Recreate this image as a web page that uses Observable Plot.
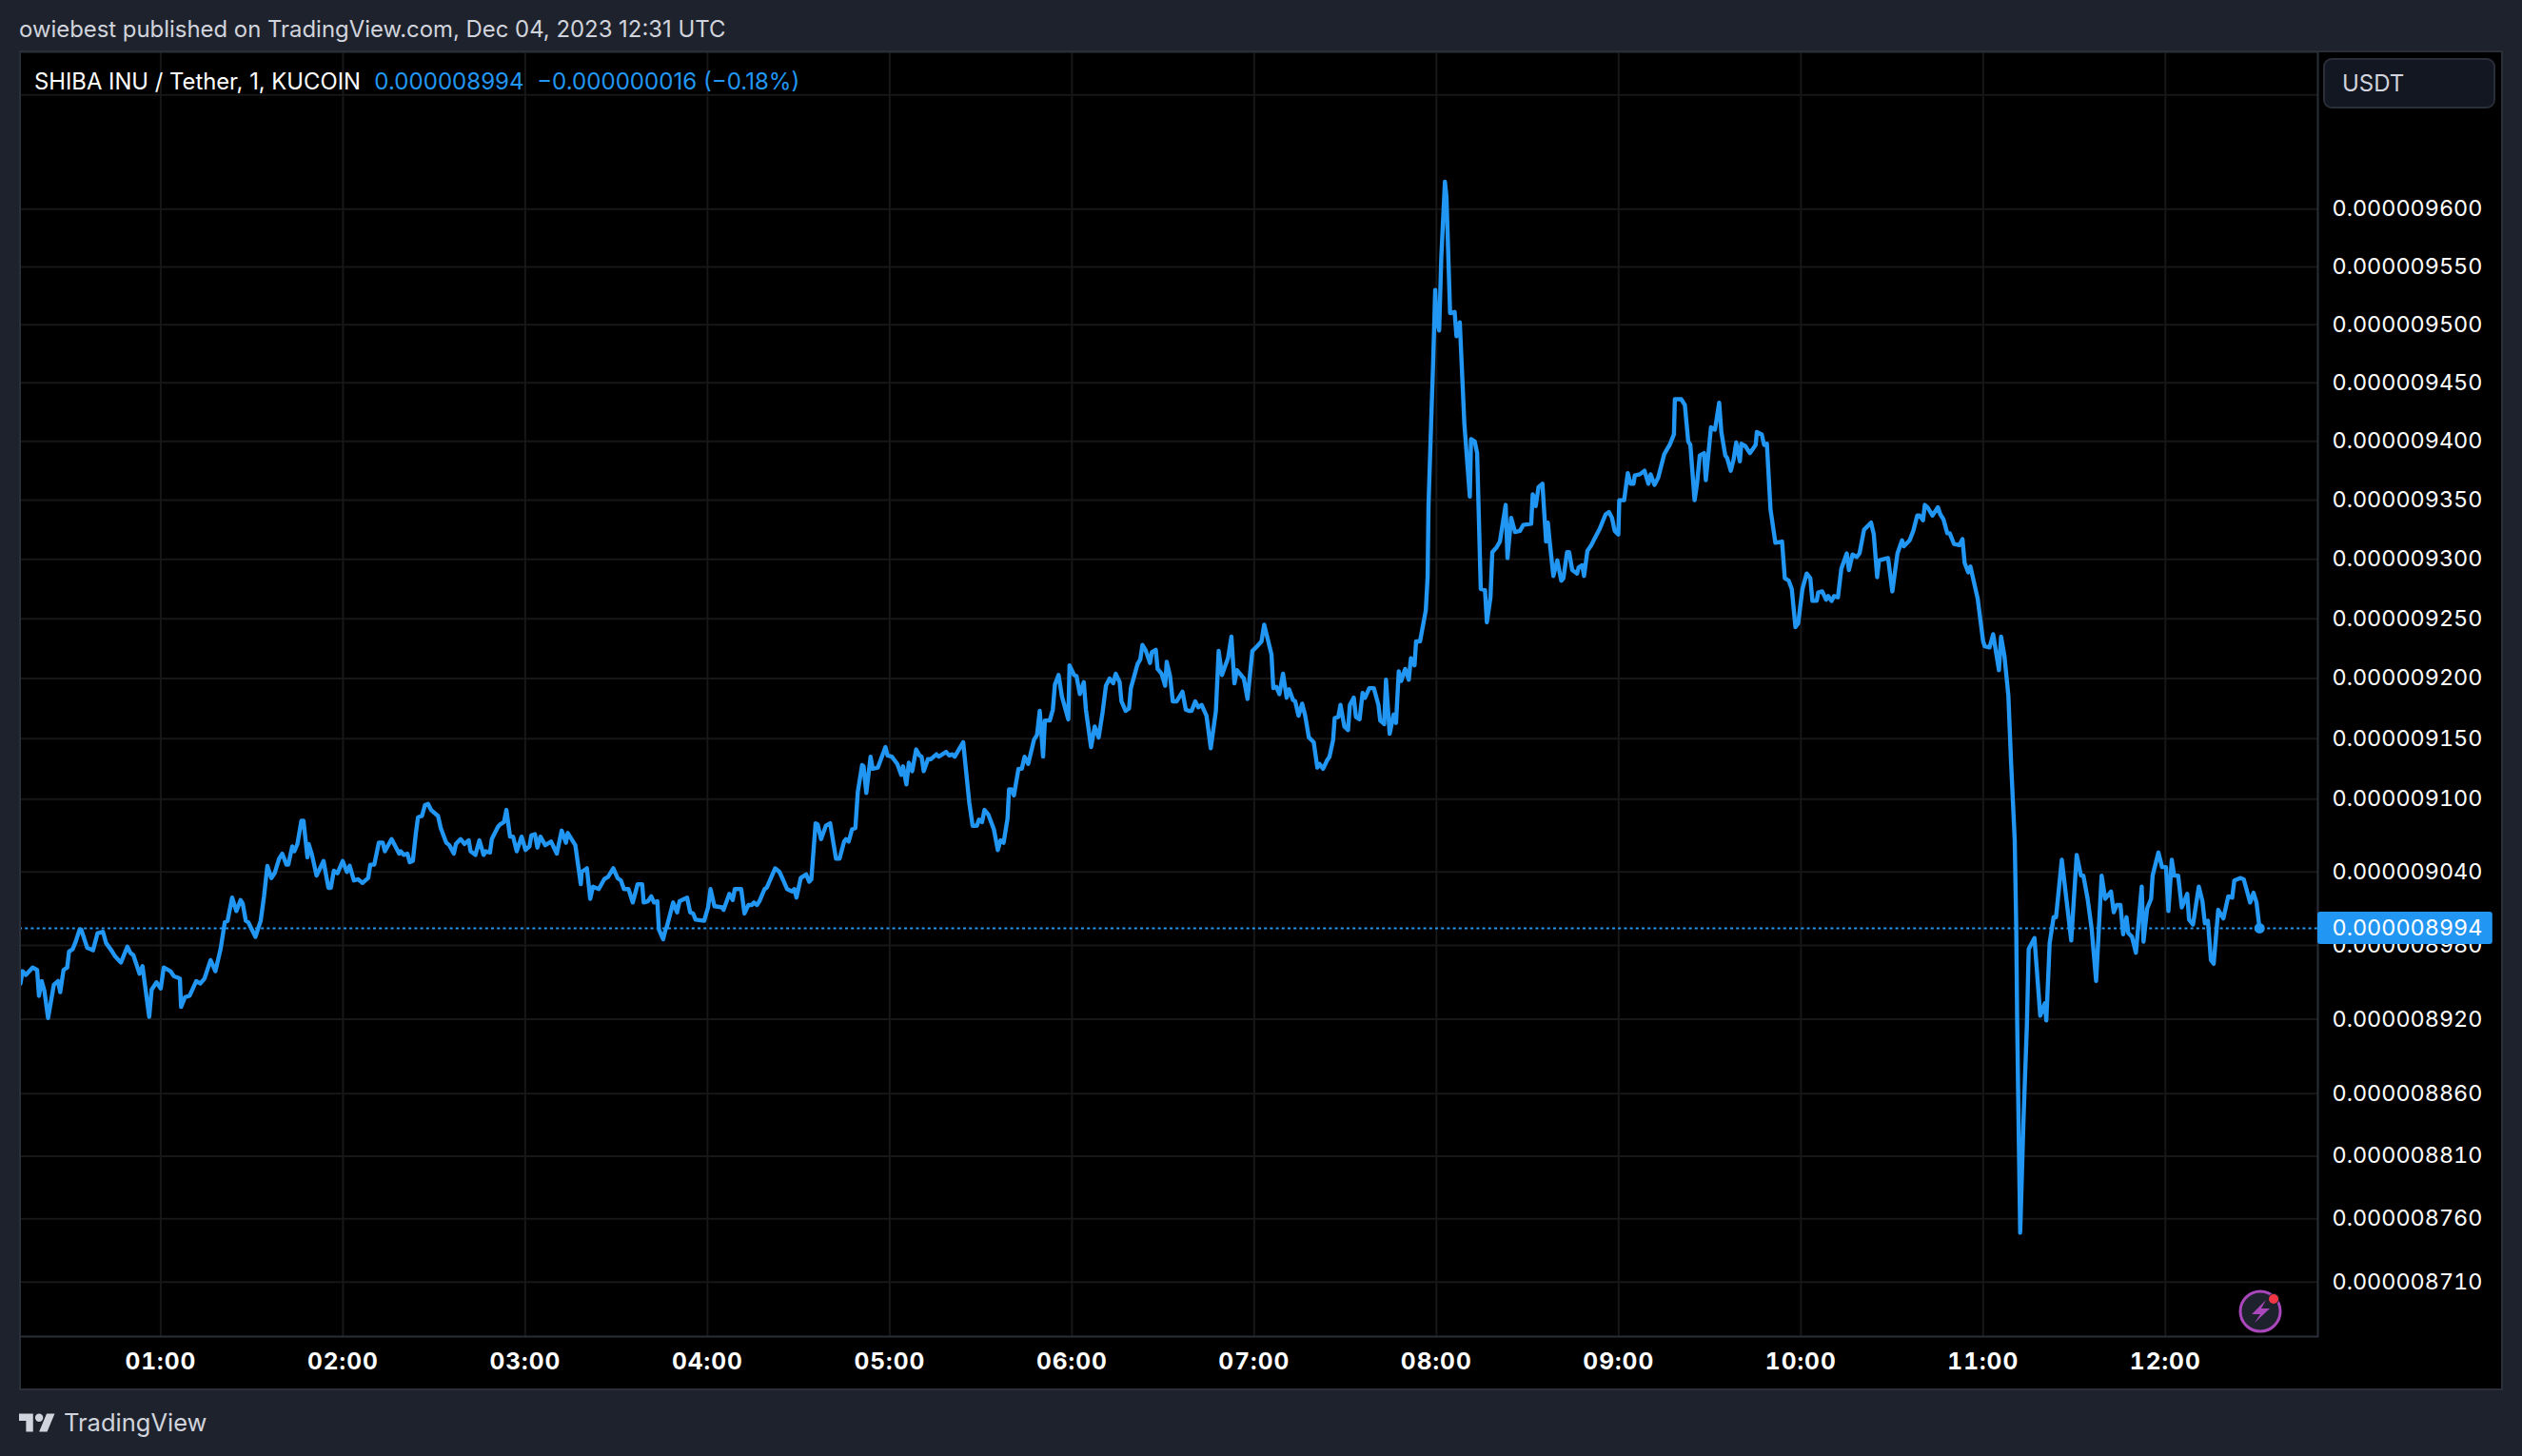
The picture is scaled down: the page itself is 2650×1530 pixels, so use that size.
<!DOCTYPE html>
<html>
<head>
<meta charset="utf-8">
<script src="https://cdn.jsdelivr.net/npm/d3@7"></script>
<script src="https://cdn.jsdelivr.net/npm/@observablehq/plot@0.6"></script>
<style>
html,body{margin:0;padding:0;background:#1e222d;width:2650px;height:1530px;overflow:hidden;font-family:Inter,"Liberation Sans",sans-serif}
#head{height:53px;line-height:62px;padding-left:20px;color:#d1d4dc;font-size:23.9px;white-space:nowrap;box-sizing:border-box}
#chart{position:relative;margin-left:20px;width:2610px;height:1408px}
#chart svg.main{display:block;outline:2px solid #2a2e39;outline-offset:-2px}
#chart svg.main [aria-label="x-axis tick label"]{letter-spacing:1px}
#legend{position:absolute;left:16px;top:18px;font-size:23.8px;line-height:30px;white-space:nowrap;color:#fff}
#legend .v{color:#2196f3;font-size:24.1px;margin-left:1px}
#unit{position:absolute;left:2421px;top:8px;width:181px;height:53px;box-sizing:border-box;background:#131722;border:2px solid #2a2e39;border-radius:9px;color:#d1d4dc;font-size:24px;line-height:49px;padding-left:18px}
#bolt{position:absolute;left:2328px;top:1296px}
#foot{height:69px;display:flex;align-items:center;padding-left:20px;color:#d1d4dc;font-size:25.5px;box-sizing:border-box;padding-bottom:2px}
#foot svg{margin-right:9px}
</style>
</head>
<body>
<div id="head">owiebest published on TradingView.com, Dec 04, 2023 12:31 UTC</div>
<div id="chart">
  <div id="legend">SHIBA INU / Tether, 1, KUCOIN&nbsp; <span class="v">0.000008994&nbsp; −0.000000016 (−0.18%)</span></div>
  <div id="unit">USDT</div>
</div>
<div id="foot"><svg width="38" height="20" viewBox="0 4 36 18"><path fill="#d1d4dc" d="M14 22H7V11H0V4h14v18zM28 22h-8l7.5-18h8L28 22z"/><circle fill="#d1d4dc" cx="20" cy="8" r="4"/></svg>TradingView</div>
<script>
// Minutes after 00:00 UTC, Dec 04 2023, and last price in units of 1e-9 USDT
const minutes = [
13.8,14.5,15.6,17.8,19.3,19.9,20.8,21.7,22.9,24.8,26.2,26.9,
28,29.2,29.8,31,32,33.3,33.8,35.8,37.7,39.2,41,42,
44,45,46.9,49,50,51,53,54,56.2,57,58.6,60,
61,63.2,64.3,66.3,66.7,68,69.5,71.7,73,74.4,76.4,78,
79.7,81.1,82,83.5,84.9,86.3,87,88,88.8,91.2,92.9,94,
95.1,96.4,97.5,99,100,101.4,102,103.3,104,105,106.3,107,
108.3,108.7,109.8,111.3,113.6,115.2,116,117,118.2,119.9,121.3,122.2,
123.6,125,126.4,128.3,129,130.3,131.8,133.1,133.8,136,138.5,139,
140,141.2,142,143,144,144.7,146,147,148,149,151.3,152.2,
154,155,156.5,157.2,158.7,160,161.4,162,163.6,164.9,166.3,167,
168.4,169,171,171.7,173,173.8,175,176,177.2,178.8,180.1,181.4,
182,183.2,184,185,186.6,188.5,190.4,192,193.4,194,196.5,198.3,
198.6,200.3,201.4,202.3,204.2,206,207.3,209,210.4,211.5,212.5,214,
215.4,217,218.5,219,220.4,221.5,222.4,223.5,224,225.4,226.2,226.6,
228.7,230,230.8,233.3,234.3,235.3,236.1,238.9,240.2,241,242.3,244.8,
245.3,247.2,248.3,249,251.1,252.2,253.5,254.6,255.3,256.3,257.1,258.8,
259.5,262.3,263.7,265,266.2,267.9,268.6,269.3,270.7,272.5,273.5,274.2,
275.6,276.3,277.4,279,280.4,282.3,283.5,285,285.6,286.5,287.6,288.7,
289.5,290.9,291.4,292.3,293.7,294.4,296.1,298.6,299.3,300.7,302.5,303.8,
304.4,305.5,306.3,307.4,308.7,309.8,310.5,311.2,312.6,313.6,315.4,316.1,
318.6,319.6,320.6,321.4,324.2,326.2,327.3,328.7,329.4,330.4,331.2,332.5,
334.3,335.6,336.5,337.5,338.8,339.3,340.1,340.9,342.4,343.5,344.4,345.6,
347.5,348.5,349.4,350.5,351.1,352.7,353.7,354.4,355.6,356.7,358.8,359.2,
360.7,361.5,362.6,363.9,364.6,366.3,367.5,368.8,370.1,371.2,372.4,373.6,
374.4,375.7,376.3,377.7,378.8,379.4,381.6,382.5,383.2,384.2,385.7,386.3,
387.6,388.2,389.5,390.7,391.2,392.3,393.2,394.5,396.4,397.5,398.5,399.4,
400.6,401.6,402.7,404.3,405.7,407.4,408.3,409.4,411.4,412.5,413.5,414.3,
416.6,417.8,419.4,421,422.4,423.3,425.7,426.3,427.3,428.3,429.5,430.7,
431.5,432.8,433.5,434.6,435.8,436.8,438,439.6,440.8,441.5,442.7,444,
444.8,446,446.5,447.7,448.4,449.7,450.9,451.5,452.8,453.5,454.7,455.7,
456.5,457.9,459.4,460.9,461.5,462.8,463.4,464.6,465.9,466.7,467.6,468.4,
469.7,470.9,471.6,472.8,473.3,474.6,476.5,477.1,477.4,478.3,478.9,479.6,
480,480.9,481.6,482.8,483.3,484.5,486,486.6,487.7,489.2,491,491.4,
492.6,493.4,494.6,496,496.6,497.8,498.4,499.8,500.9,502.8,503.4,504.6,
505.9,507.5,508.6,511.2,511.7,512.7,513.6,514.9,516.1,516.7,517.2,518.5,
519.8,521.1,521.8,523,523.7,524.7,526.3,526.8,528,528.6,529.7,531,
532.6,533.8,535.7,536.8,537.8,538.7,539.9,540.2,541.8,543,543.9,544.9,
545.3,547,548.5,549.8,550.5,551.8,553,555,556.1,556.8,558.2,558.5,
559.1,560.6,561.8,562.9,563.6,565,565.8,566.7,568.1,568.7,570.4,571.7,
573.1,573.8,575.1,575.7,576.9,577.8,578.7,579.9,580.4,581.7,583.2,584.3,
585.1,585.5,587.1,587.9,588.8,590,591.6,593.8,594.7,596,597,598.2,
599.1,600.5,601.9,603.1,603.8,605.2,605.7,607,608.3,609,610.1,610.9,
612.2,613.3,615.1,615.8,617,618.4,619.3,620.8,623.1,624,625.1,625.7,
628.7,630.1,631.8,633.3,633.9,635.8,637,638.3,639.1,640.2,640.8,641.7,
643.3,645.1,645.9,646.9,648.2,649,650.4,652.2,653.2,653.9,655.1,655.8,
658.2,660,660.5,662.1,663.3,665.2,665.9,667,668.3,669.2,670.4,670.9,
671.2,671.7,672.2,673.3,674.4,675,676.9,678.8,680.3,680.8,681.9,683.2,
684,685.9,689,690.8,692.2,693,694.4,695.7,697.2,699,700.2,702.1,
703,704,705.2,706.1,707.2,707.8,709,710.3,712.2,712.8,714,715.3,
715.8,717.7,718.9,720.2,721,722.1,722.9,724.2,725.4,727.2,727.8,729.1,
731,732.2,733,734,735,735.9,737.4,739.1,740.7,742,742.7,744.6,
745.8,747.9,749,750,751
];
const prices = [
8949,8959,8956,8962,8960,8939,8951,8943,8921,8948,8951,8942,
8960,8962,8975,8977,8983,8993,8993,8978,8976,8990,8991,8982,
8975,8971,8966,8979,8974,8972,8957,8963,8922,8944,8950,8945,
8962,8959,8955,8953,8930,8938,8939,8951,8949,8953,8968,8959,
8977,8999,9000,9019,9008,9017,9014,9000,8999,8987,9000,9020,
9045,9035,9039,9051,9055,9046,9046,9061,9057,9063,9082,9082,
9052,9063,9054,9037,9049,9027,9027,9041,9039,9049,9040,9045,
9033,9034,9031,9035,9046,9046,9064,9064,9057,9067,9055,9057,
9054,9055,9048,9049,9072,9085,9086,9095,9096,9091,9086,9076,
9064,9062,9055,9063,9067,9063,9066,9057,9054,9066,9054,9057,
9056,9067,9077,9079,9081,9091,9069,9069,9057,9069,9058,9061,
9070,9071,9060,9069,9062,9065,9055,9074,9064,9072,9062,9030,
9040,9043,9018,9028,9026,9034,9036,9043,9035,9033,9026,9026,
9015,9030,9030,9015,9016,9020,9015,9016,8993,8985,8993,8995,
9015,9007,9016,9019,9007,9006,9001,9000,9011,9026,9012,9011,
9009,9022,9017,9026,9026,9006,9013,9013,9015,9013,9016,9026,
9027,9043,9040,9033,9026,9024,9026,9019,9035,9038,9032,9034,
9080,9079,9067,9078,9080,9051,9051,9065,9067,9065,9075,9076,
9106,9128,9127,9105,9135,9125,9126,9143,9136,9135,9129,9120,
9127,9112,9130,9123,9141,9136,9135,9123,9133,9133,9137,9135,
9139,9136,9137,9135,9147,9097,9078,9078,9083,9081,9091,9087,
9075,9058,9066,9064,9084,9108,9108,9103,9125,9125,9135,9129,
9149,9153,9173,9135,9165,9165,9174,9195,9203,9185,9166,9211,
9203,9202,9187,9197,9174,9143,9160,9151,9172,9194,9200,9196,
9204,9197,9181,9173,9175,9192,9212,9216,9228,9224,9213,9222,
9224,9208,9204,9194,9214,9202,9181,9181,9189,9174,9173,9173,
9181,9176,9178,9169,9142,9173,9223,9203,9217,9235,9196,9207,
9200,9183,9223,9227,9231,9245,9220,9192,9193,9187,9204,9184,
9191,9182,9181,9169,9179,9169,9151,9147,9126,9129,9125,9132,
9135,9149,9167,9168,9178,9160,9157,9178,9184,9168,9166,9188,
9184,9192,9192,9178,9165,9162,9199,9154,9170,9163,9206,9198,
9208,9199,9217,9211,9231,9231,9257,9285,9346,9419,9466,9530,
9505,9495,9558,9624,9611,9510,9511,9490,9502,9415,9353,9402,
9400,9390,9275,9274,9247,9268,9306,9310,9315,9346,9301,9335,
9323,9324,9329,9330,9355,9345,9361,9364,9315,9331,9317,9286,
9299,9282,9284,9306,9306,9291,9288,9293,9295,9286,9307,9312,
9320,9326,9338,9340,9335,9324,9321,9350,9350,9373,9364,9364,
9371,9372,9375,9364,9372,9363,9369,9389,9394,9397,9406,9436,
9436,9436,9431,9400,9397,9350,9364,9388,9390,9367,9412,9410,
9433,9408,9388,9386,9375,9384,9399,9383,9398,9396,9390,9394,
9397,9408,9406,9397,9398,9342,9314,9315,9284,9282,9275,9243,
9246,9275,9288,9284,9265,9265,9272,9273,9266,9269,9265,9269,
9268,9292,9305,9291,9304,9302,9305,9325,9331,9321,9285,9299,
9301,9273,9305,9316,9311,9316,9324,9337,9337,9333,9346,9344,
9337,9344,9338,9334,9322,9322,9313,9312,9317,9297,9289,9294,
9267,9231,9227,9226,9237,9207,9235,9219,9186,9130,9066,8994,
8918,8830,8749,8840,8915,8977,8986,8923,8933,8919,8982,9003,
9003,9050,8984,9054,9037,9037,9018,8994,8951,9037,9018,9024,
9007,9013,9013,8989,9003,8990,8987,8974,9028,8983,9010,9018,
9037,9056,9044,9044,9008,9050,9037,9037,9011,9022,9001,8997,
9028,9016,8998,9000,8968,8965,9009,9002,9020,9019,9033,9035,
9034,9015,9023,9015,8994
];
const hours = [1,2,3,4,5,6,7,8,9,10,11,12];
const gridPrices = [9700,9600,9550,9500,9450,9400,9350,9300,9250,9200,9150,9100,9040,8980,8920,8860,8810,8760,8710];
const labelPrices = [9600,9550,9500,9450,9400,9350,9300,9250,9200,9150,9100,9040,8980,8920,8860,8810,8760,8710];
const lastPrice = 8994;
const xDomain = [13.5, 770.2];
const yDomain = [8667, 9738];

const fmtPrice = d => (d * 1e-9).toFixed(9);
const fmtHour = m => String(m / 60).padStart(2, "0") + ":00";
const hourMin = hours.map(h => h * 60);
const line = minutes.map((m, i) => ({m, p: prices[i]}));
const last = line[line.length - 1];
const tagEnd = xDomain[1] + 57.6;

const plot = Plot.plot({
  width: 2610,
  height: 1408,
  marginLeft: 0,
  marginRight: 195,
  marginTop: 1,
  marginBottom: 57,
  style: {background: "#000", fontFamily: "Inter, sans-serif", color: "#fff"},
  x: {domain: xDomain},
  y: {type: "log", domain: yDomain},
  marks: [
    Plot.ruleX(hourMin, {stroke: "#171717", strokeWidth: 2}),
    Plot.ruleY(gridPrices, {stroke: "#171717", strokeWidth: 2}),
    Plot.frame({stroke: "#2a2e39", strokeWidth: 2}),
    Plot.axisX(hourMin, {anchor: "bottom", tickSize: 0, tickPadding: 17, tickFormat: fmtHour, fontSize: 24.5, fontWeight: 700, color: "#fff", label: null}),
    Plot.axisY(labelPrices, {anchor: "right", tickSize: 0, tickPadding: 15, tickFormat: fmtPrice, fontSize: 23.4, color: "#fff", label: null}),
    Plot.ruleY([lastPrice], {stroke: "#2196f3", strokeWidth: 2, strokeDasharray: "3 3.2"}),
    Plot.line(line, {x: "m", y: "p", stroke: "#2196f3", strokeWidth: 4.4, strokeLinejoin: "round", curve: "linear"}),
    Plot.dot([last], {x: "m", y: "p", r: 5.5, fill: "#2196f3"}),
    Plot.rect([lastPrice], {x1: xDomain[1], x2: tagEnd, y1: d => d - 13.2, y2: d => d + 13.2, fill: "#2196f3", rx: 3}),
    Plot.text([lastPrice], {x: xDomain[1], y: d => d, dx: 15, text: fmtPrice, textAnchor: "start", fontSize: 23.4, fontVariant: "tabular-nums", fill: "#fff"})
  ]
});
plot.classList.add("main");
document.getElementById("chart").prepend(plot);

// Small "new release" badge in the corner of the pane
const bolt = document.createElementNS("http://www.w3.org/2000/svg", "svg");
bolt.id = "bolt";
bolt.setAttribute("width", "56");
bolt.setAttribute("height", "56");
bolt.innerHTML = '<circle cx="27" cy="29" r="21" fill="#1e222d" stroke="#ab47bc" stroke-width="3"/>' +
  '<path d="M33 17 L18 32 H27 L21 41 L37 26 H28 Z" fill="#ab47bc"/>' +
  '<circle cx="41" cy="16" r="6" fill="#1e222d"/><circle cx="41" cy="16" r="5" fill="#f23645"/>';
document.getElementById("chart").appendChild(bolt);
if (minutes.length !== prices.length) console.error("length mismatch", minutes.length, prices.length);
</script>
</body>
</html>
